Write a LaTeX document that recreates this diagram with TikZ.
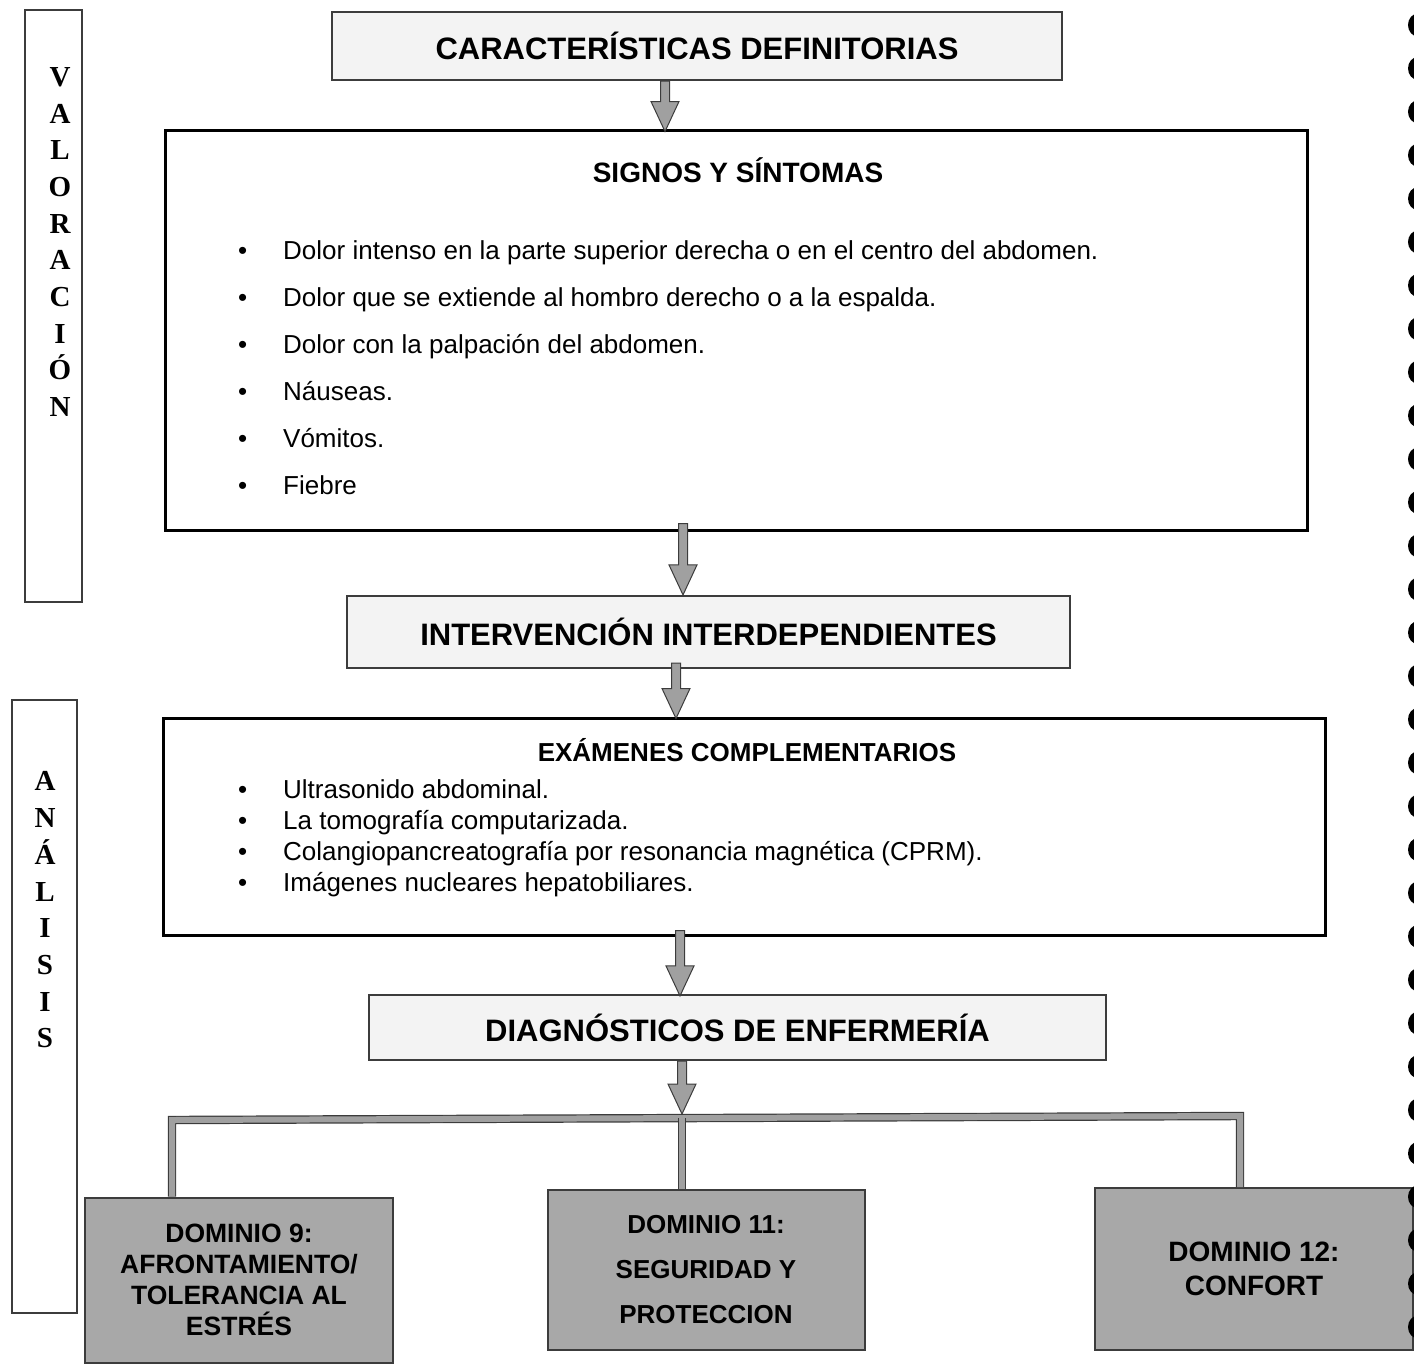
\documentclass[tikz,border=0pt]{standalone}
\usepackage{fontspec}
\setmainfont{Liberation Sans}
\newfontfamily\sideserif{Liberation Serif}
\usetikzlibrary{calc}
\definecolor{boxedge}{RGB}{60,60,60}
\definecolor{headfill}{RGB}{243,243,243}
\definecolor{domfill}{RGB}{168,168,168}
\definecolor{arrowgray}{RGB}{160,160,160}
\newcommand{\blockarrow}[2]{%
  \filldraw[arrowstyle] let \p1=#1, \p2=#2 in
    (\x1-4.5pt,\y1) -- (\x2-4.5pt,\y2+30pt) -- (\x2-14pt,\y2+30pt) -- (\x2,\y2)
    -- (\x2+14pt,\y2+30pt) -- (\x2+4.5pt,\y2+30pt) -- (\x1+4.5pt,\y1) -- cycle;}

\begin{document}
\begin{tikzpicture}[x=1pt, y=-1pt,
    headbox/.style={draw=boxedge, line width=2.2pt, fill=headfill, font=\bfseries\fontsize{31}{34}\selectfont},
    mainbox/.style={draw=black, line width=3pt},
    boxtitle/.style={font=\bfseries\fontsize{28}{30}\selectfont},
    item/.style={anchor=base west, inner sep=0pt, font=\fontsize{26}{30}\selectfont},
    dombox/.style={draw=boxedge, line width=2pt, fill=domfill, align=center},
    sidebox/.style={draw=boxedge, line width=2pt},
    sideletters/.style={align=center, font=\sideserif\bfseries\fontsize{29}{36.7}\selectfont},
    arrowstyle/.style={fill=arrowgray, draw=boxedge, line width=1pt},
    branch/.style={draw=boxedge, line width=1.2pt, double=arrowgray, double distance=6pt}]
    \useasboundingbox (0,0) rectangle (1414,1366);
    \clip (0,0) rectangle (1414,1366);

    % Side columns
    \node[sidebox, minimum width=57pt, minimum height=592pt] (val) at (53.5,306) {};
    \node[sideletters] (valtxt) at (60,242) {V\\A\\L\\O\\R\\A\\C\\I\\Ó\\N};
    \node[sidebox, minimum width=65pt, minimum height=613pt] (ana) at (44.5,1006.5) {};
    \node[sideletters] (anatxt) at (45,910) {A\\N\\Á\\L\\I\\S\\I\\S};

    % Header boxes
    \node[headbox, minimum width=730pt, minimum height=68pt] (cd) at (697,46) {CARACTERÍSTICAS DEFINITORIAS};
    \node[headbox, minimum width=723pt, minimum height=72pt] (ii) at (708.5,632) {INTERVENCIÓN INTERDEPENDIENTES};
    \node[headbox, minimum width=737pt, minimum height=65pt] (de) at (737.5,1027.5) {DIAGNÓSTICOS DE ENFERMERÍA};

    % Signos y sintomas
    \node[mainbox, minimum width=1142pt, minimum height=400pt] (ss) at (736,330) {};
    \node[boxtitle] (sstitle) at (738,170) {SIGNOS Y SÍNTOMAS};
    \foreach \txt [count=\i from 0] in {{Dolor intenso en la parte superior derecha o en el centro del abdomen.},
        {Dolor que se extiende al hombro derecho o a la espalda.},
        {Dolor con la palpación del abdomen.},
        {Náuseas.}, {Vómitos.}, {Fiebre}} {
        \node[item] (sym\i) at (238,259+47*\i) {\makebox[45pt][l]{\textbullet}\txt};
    }

    % Examenes complementarios
    \node[mainbox, minimum width=1162pt, minimum height=217pt] (ec) at (744,826.5) {};
    \node[boxtitle, font=\bfseries\fontsize{26}{30}\selectfont] (ectitle) at (747,750) {EXÁMENES COMPLEMENTARIOS};
    \foreach \txt [count=\i from 0] in {{Ultrasonido abdominal.},
        {La tomografía computarizada.},
        {Colangiopancreatografía por resonancia magnética (CPRM).},
        {Imágenes nucleares hepatobiliares.}} {
        \node[item] (ex\i) at (238,798+31.3*\i) {\makebox[45pt][l]{\textbullet}\txt};
    }

    % Dominios
    \node[dombox, minimum width=308pt, minimum height=165pt, font=\bfseries\fontsize{26.5}{31}\selectfont] (d9) at (239,1280)
        {DOMINIO 9:\\AFRONTAMIENTO/\\TOLERANCIA AL\\ESTRÉS};
    \node[dombox, minimum width=317pt, minimum height=160pt, font=\bfseries\fontsize{26}{45}\selectfont] (d11) at (706,1270)
        {DOMINIO 11:\\SEGURIDAD Y\\PROTECCION};
    \node[dombox, minimum width=318pt, minimum height=162pt, font=\bfseries\fontsize{28}{34}\selectfont] (d12) at (1254,1269)
        {DOMINIO 12:\\CONFORT};

    % Arrows
    \coordinate (a1) at (665,0);
    \coordinate (a2) at (683,0);
    \coordinate (a3) at (676,0);
    \coordinate (a4) at (680,0);
    \coordinate (bl) at (172,1120);
    \coordinate (bm) at (682,1118);
    \coordinate (br) at (1240,1116);
    \blockarrow{(cd.south -| a1)}{($(ss.north -| a1)+(0,3)$)}
    \blockarrow{($(ss.south -| a2)+(0,-8)$)}{(ii.north -| a2)}
    \blockarrow{($(ii.south -| a3)+(0,-6)$)}{($(ec.north -| a3)+(0,2)$)}
    \blockarrow{($(ec.south -| a4)+(0,-6)$)}{($(de.north -| a4)+(0,2)$)}

    % Branches to the domains
    \draw[branch] (d9.north -| bl) -- (bl) -- (br) -- (d12.north -| br);
    \draw[branch] (d11.north -| bm) -- (bm);
    \blockarrow{(de.south -| bm)}{($(bm)+(0,-4)$)}

    % Binding holes
    \foreach \k in {0,...,30} {
        \fill (1418,25+43.4*\k) ellipse (10pt and 11.5pt);
    }
\end{tikzpicture}
\end{document}
